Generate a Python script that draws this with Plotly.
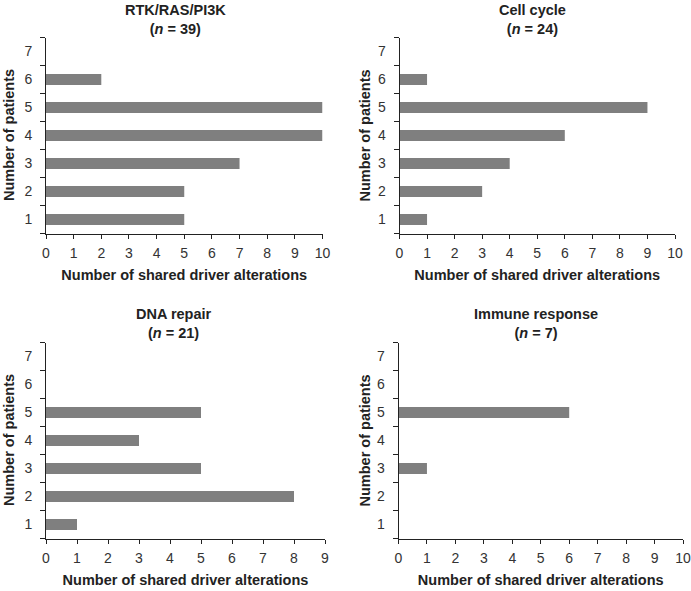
import plotly.graph_objects as go

patients = [1, 2, 3, 4, 5, 6, 7]
patient_labels = ["1", "2", "3", "4", "5", "6", "7"]

rtk_patients = [1, 2, 3, 4, 5, 6]
rtk_values = [5, 5, 7, 10, 10, 2]

cell_patients = [1, 2, 3, 4, 5, 6]
cell_values = [1, 3, 4, 6, 9, 1]

dna_patients = [1, 2, 3, 4, 5]
dna_values = [1, 8, 5, 3, 5]

immune_patients = [3, 5]
immune_values = [1, 6]

titles = ["RTK/RAS/PI3K<br>(<i>n</i> = 39)", "Cell cycle<br>(<i>n</i> = 24)",
          "DNA repair<br>(<i>n</i> = 21)", "Immune response<br>(<i>n</i> = 7)"]
x_title = "Number of shared driver alterations"
y_title = "Number of patients"
xmax = [10, 10, 9, 10]

W, H = 691, 591
panels = [
    (rtk_patients, rtk_values, (46, 322.5), (37.5, 233.5), 175, 0, 8.5),
    (cell_patients, cell_values, (399.5, 675), (37.5, 233.5), 532, 0, 364),
    (dna_patients, dna_values, (46, 325), (342.5, 538.5), 174, 304, 8.5),
    (immune_patients, immune_values, (398.5, 683), (342.5, 538.5), 536, 304, 364),
]

fig = go.Figure()
font_family = "Liberation Sans, Arial, sans-serif"
bar_color = "#7f7f7f"
layout = {}
annotations = []
for i, (ys, xs, (x0, x1), (yt, yb), tx, ty, yx) in enumerate(panels):
    n = "" if i == 0 else str(i + 1)
    fig.add_trace(go.Bar(x=xs, y=ys, orientation="h", width=0.4,
                         marker=dict(color=bar_color, line=dict(width=0)),
                         xaxis="x" + n, yaxis="y" + n, showlegend=False))
    layout["xaxis" + n] = dict(
        domain=[x0 / W, x1 / W], anchor="y" + n, range=[0, xmax[i]],
        tickmode="linear", tick0=0, dtick=1, ticks="outside", ticklen=4,
        ticklabelstandoff=3,
        tickcolor="#222", showline=True, linecolor="#222", linewidth=1,
        showgrid=False, zeroline=False, automargin=False,
        tickfont=dict(size=14, color="#333", family=font_family),
        title=dict(text="<b>" + x_title + "</b>",
                   font=dict(size=14.5, color="#222", family=font_family), standoff=9),
    )
    layout["yaxis" + n] = dict(
        domain=[1 - yb / H, 1 - yt / H], anchor="x" + n, range=[0.5, 7.5],
        tickmode="array", tickvals=patients, ticktext=patient_labels, ticks="",
        ticklabelstandoff=10, automargin=False,
        minor=dict(tickmode="linear", tick0=0.5, dtick=1, ticks="outside",
                   ticklen=5, tickcolor="#222", showgrid=False),
        showline=True, linecolor="#222", linewidth=1, showgrid=False, zeroline=False,
        tickfont=dict(size=14, color="#333", family=font_family),
    )
    annotations.append(dict(text="<b>" + titles[i] + "</b>", x=tx / W, y=1 - ty / H,
                            xref="paper", yref="paper", xanchor="center", yanchor="top",
                            showarrow=False, align="center",
                            font=dict(size=14.5, color="#222", family=font_family)))
    annotations.append(dict(text="<b>" + y_title + "</b>", x=yx / W,
                            y=1 - (yt + yb) / 2 / H, textangle=-90,
                            xref="paper", yref="paper", xanchor="center", yanchor="middle",
                            showarrow=False,
                            font=dict(size=14.5, color="#222", family=font_family)))

fig.update_layout(width=W, height=H, margin=dict(l=0, r=0, t=0, b=0),
                  plot_bgcolor="white", paper_bgcolor="white",
                  bargap=0.6, annotations=annotations, **layout)
fig.write_html("out.html", config={"displayModeBar": False},
               post_script="document.body.style.margin='0';document.body.style.overflow='hidden';")
